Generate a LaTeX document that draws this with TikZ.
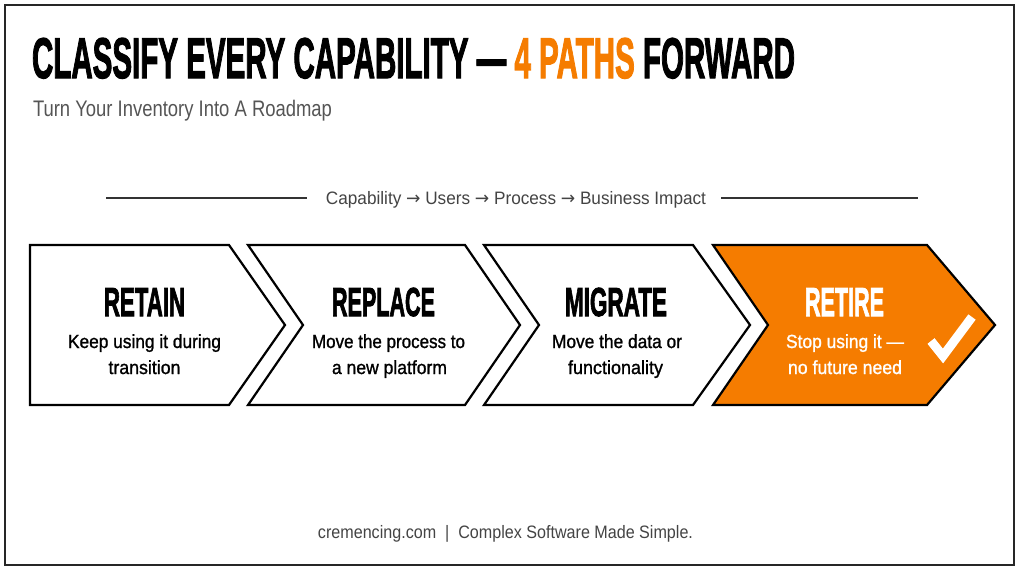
\documentclass[tikz,border=0pt]{standalone}
\usepackage{fontspec}
\usepackage{graphicx}
\setmainfont{Liberation Sans}
\newfontfamily\titlefont{Liberation Sans Bold}[FakeBold=2.5]
\newfontfamily\bodyfont{Liberation Sans}[FakeBold=1.2]
\newfontfamily\arrowfont{DejaVu Sans}
\definecolor{brand}{RGB}{245,124,0}
\definecolor{subgrey}{RGB}{85,85,85}
\definecolor{txtgrey}{RGB}{68,68,68}
\newcommand\fitw[2]{\resizebox{#1pt}{\height}{#2}}
\tikzset{
  lbl/.style={anchor=base, inner sep=0pt, outer sep=0pt},
  frame/.style={draw=black!85, line width=2pt},
  chev/.style={draw=black, line width=2.2pt, line join=miter, fill=white},
  chevhot/.style={chev, fill=brand},
  rule/.style={draw=black!80, line width=1.2pt},
  checkmark/.style={draw=white, line width=9pt, line cap=butt, line join=miter}
}
\begin{document}
\begin{tikzpicture}[x=1pt,y=-1pt]
\useasboundingbox (0,0) rectangle (1024,573);
\fill[white] (0,0) rectangle (1024,573);
\draw[frame] (5,5) rectangle (1014,565);

% title
\node[lbl, anchor=base west] (title) at (32,78)
  {\fitw{763}{\titlefont\fontsize{57.3}{60}\selectfont CLASSIFY EVERY CAPABILITY — \textcolor{brand}{4 PATHS} FORWARD}};
\node[lbl, anchor=base west, text=subgrey] (subtitle) at (33,116)
  {\fitw{299}{\fontsize{22.5}{26}\selectfont Turn Your Inventory Into A Roadmap}};

% header rule
\node[lbl, text=txtgrey] (hdr) at (516,204.5)
  {\fitw{380}{\fontsize{18}{20}\selectfont Capability {\arrowfont →} Users {\arrowfont →} Process {\arrowfont →} Business Impact}};
\coordinate (r1a) at (106,198);
\coordinate (r1b) at (307,198);
\coordinate (r2a) at (721,198);
\coordinate (r2b) at (918,198);
\draw[rule] (r1a) -- (r1b);
\draw[rule] (r2a) -- (r2b);

% chevrons
\draw[chev] (30,245) -- (229,245) -- (285,325) -- (229,405) -- (30,405) -- cycle;
\draw[chev] (248,245) -- (465,245) -- (520,325) -- (465,405) -- (248,405) -- (303,325) -- cycle;
\draw[chev] (484,245) -- (693,245) -- (750,325) -- (693,405) -- (484,405) -- (539,325) -- cycle;
\draw[chevhot] (713,245) -- (927,245) -- (995,325) -- (927,405) -- (713,405) -- (768,325) -- cycle;

% chevron titles
\node[lbl] (t1) at (144.5,316) {\fitw{81}{\titlefont\fontsize{40.5}{42}\selectfont RETAIN}};
\node[lbl] (t2) at (383.5,316) {\fitw{103}{\titlefont\fontsize{40.5}{42}\selectfont REPLACE}};
\node[lbl] (t3) at (616,316) {\fitw{102}{\titlefont\fontsize{40.5}{42}\selectfont MIGRATE}};
\node[lbl, text=white] (t4) at (844.5,316) {\fitw{79}{\titlefont\fontsize{40.5}{42}\selectfont RETIRE}};

% chevron bodies
\node[lbl] (b1a) at (144.5,348) {\fitw{153}{\bodyfont\fontsize{19}{20}\selectfont Keep using it during}};
\node[lbl] (b1b) at (144.5,374) {\fitw{72}{\bodyfont\fontsize{19}{20}\selectfont transition}};
\node[lbl] (b2a) at (388.5,348) {\fitw{153}{\bodyfont\fontsize{19}{20}\selectfont Move the process to}};
\node[lbl] (b2b) at (389.5,374) {\fitw{115}{\bodyfont\fontsize{19}{20}\selectfont a new platform}};
\node[lbl] (b3a) at (617,348) {\fitw{130}{\bodyfont\fontsize{19}{20}\selectfont Move the data or}};
\node[lbl] (b3b) at (615.5,374) {\fitw{95}{\bodyfont\fontsize{19}{20}\selectfont functionality}};
\node[lbl, text=white] (b4a) at (845,348) {\fitw{118}{\bodyfont\fontsize{19}{20}\selectfont Stop using it —}};
\node[lbl, text=white] (b4b) at (845,374) {\fitw{114}{\bodyfont\fontsize{19}{20}\selectfont no future need}};

% check mark
\draw[checkmark] (931,341) -- (943,356) -- (972,317);

% footer
\node[lbl, text=txtgrey] (footer) at (505.5,538)
  {\fitw{375}{\fontsize{18}{20}\selectfont cremencing.com\ \ |\ \ Complex Software Made Simple.}};
\end{tikzpicture}
\end{document}
